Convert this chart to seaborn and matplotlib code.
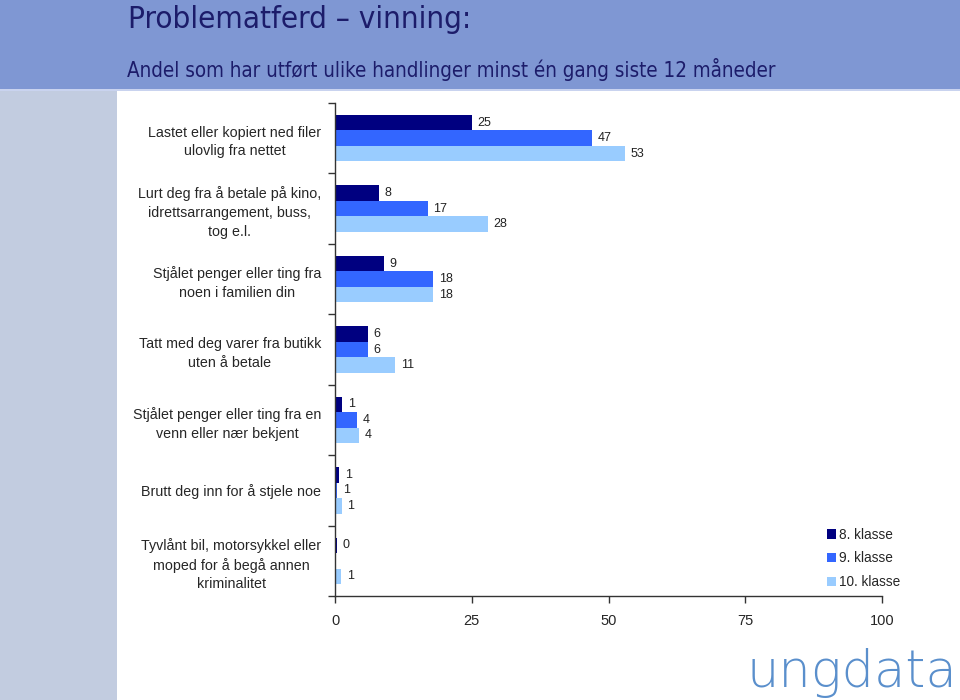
import matplotlib
matplotlib.use("Agg")
import matplotlib.pyplot as plt
import seaborn as sns
import pandas as pd
from matplotlib.patches import Rectangle

# ---- data ----
categories = [
    "Lastet eller kopiert ned filer\nulovlig fra nettet",
    "Lurt deg fra å betale på kino,\nidrettsarrangement, buss,\ntog e.l.",
    "Stjålet penger eller ting fra\nnoen i familien din",
    "Tatt med deg varer fra butikk\nuten å betale",
    "Stjålet penger eller ting fra en\nvenn eller nær bekjent",
    "Brutt deg inn for å stjele noe",
    "Tyvlånt bil, motorsykkel eller\nmoped for å begå annen\nkriminalitet",
]
grades = ["8. klasse", "9. klasse", "10. klasse"]
vals_8 = [25, 8, 9, 6, 1.3, 0.8, 0.3]
vals_9 = [47, 17, 18, 6, 4.0, 0.4, 0.0]
vals_10 = [53, 28, 18, 11, 4.4, 1.2, 1.1]
labels_8 = ["25", "8", "9", "6", "1", "1", "0"]
labels_9 = ["47", "17", "18", "6", "4", "1", ""]
labels_10 = ["53", "28", "18", "11", "4", "1", "1"]
xticks = [0, 25, 50, 75, 100]
title = "Problematferd – vinning:"
subtitle = "Andel som har utført ulike handlinger minst én gang siste 12 måneder"
logo = "ungdata"

colors = ["#000080", "#3366ff", "#99ccff"]

rows = []
for g, vals in zip(grades, [vals_8, vals_9, vals_10]):
    for c, v in zip(categories, vals):
        rows.append({"category": c, "grade": g, "value": v})
df = pd.DataFrame(rows)

sns.set_theme(style="white")
plt.rcParams["font.family"] = ["Liberation Sans", "DejaVu Sans"]

W, H = 960, 700
fig = plt.figure(figsize=(9.6, 7.0), dpi=100)
fig.patch.set_facecolor("white")

# background decorations
fig.add_artist(Rectangle((0, 1 - 89 / H), 1, 89 / H, transform=fig.transFigure,
                         facecolor="#7f97d3", edgecolor="none", zorder=0))
fig.add_artist(Rectangle((0, 1 - 91 / H), 1, 2 / H, transform=fig.transFigure,
                         facecolor="#c9d3ef", edgecolor="none", zorder=0))
fig.add_artist(Rectangle((0, 0), 117 / W, 1 - 91 / H, transform=fig.transFigure,
                         facecolor="#c2cce0", edgecolor="none", zorder=0))

renderer = fig.canvas.get_renderer()


def fit_text(x0, x1, ybase, s, size, **kw):
    t = fig.text(x0 / W, 1 - ybase / H, s, fontsize=size, ha="left", va="baseline", **kw)
    w = t.get_window_extent(renderer=renderer).width
    t.set_fontsize(size * (x1 - x0) / w)
    return t


fit_text(128, 473, 28, title, 21, color="#1c1c6a", family="DejaVu Sans", stretch="condensed")
fit_text(127, 785, 77, subtitle, 14, color="#1c1c6a", family="DejaVu Sans", stretch="condensed")

ax = fig.add_axes([335 / W, 1 - 596 / H, (882 - 335) / W, (596 - 103) / H])
ax.set_facecolor("none")

sns.barplot(data=df, y="category", x="value", hue="grade", orient="h",
            palette=colors, width=0.66, saturation=1, errorbar=None, linewidth=0,
            order=categories, hue_order=grades, ax=ax, legend=True)

for cont, labs in zip(ax.containers, [labels_8, labels_9, labels_10]):
    ax.bar_label(cont, labels=labs, padding=4, fontsize=9, color="#222222")

ax.set_xlim(0, 100)
ax.set_ylim(6.5, -0.5)
ax.set_xticks(xticks)
ax.set_xticklabels([str(t) for t in xticks], fontsize=10.5)
ax.set_xlabel("")
ax.set_ylabel("")
ax.tick_params(axis="x", direction="out", length=5, width=1, color="#333333", pad=8, bottom=True)
ax.tick_params(axis="y", which="major", length=0, pad=10)
ax.set_yticks([i - 0.5 for i in range(len(categories) + 1)], minor=True)
ax.tick_params(axis="y", which="minor", direction="out", length=5, width=1, color="#333333", left=True)
for lab in ax.get_yticklabels():
    lab.set_ha("right")
    lab.set_multialignment("center")
    lab.set_fontsize(10.3)
    lab.set_linespacing(1.42)
sns.despine(ax=ax, top=True, right=True)
for s in ["left", "bottom"]:
    ax.spines[s].set_color("#333333")
    ax.spines[s].set_linewidth(1)

handles, labels = ax.get_legend_handles_labels()
ax.get_legend().remove()
fig.legend(handles, labels, loc="upper left", bbox_to_anchor=(820 / W, 1 - 521 / H),
           frameon=False, fontsize=9.8, handlelength=0.65, handleheight=0.65,
           handletextpad=0.25, labelspacing=0.7, borderpad=0)

fit_text(746, 957, 687, logo, 36, color="#5a8fcc", family="DejaVu Sans", fontweight=200)

fig.savefig("out.png", dpi=100)
